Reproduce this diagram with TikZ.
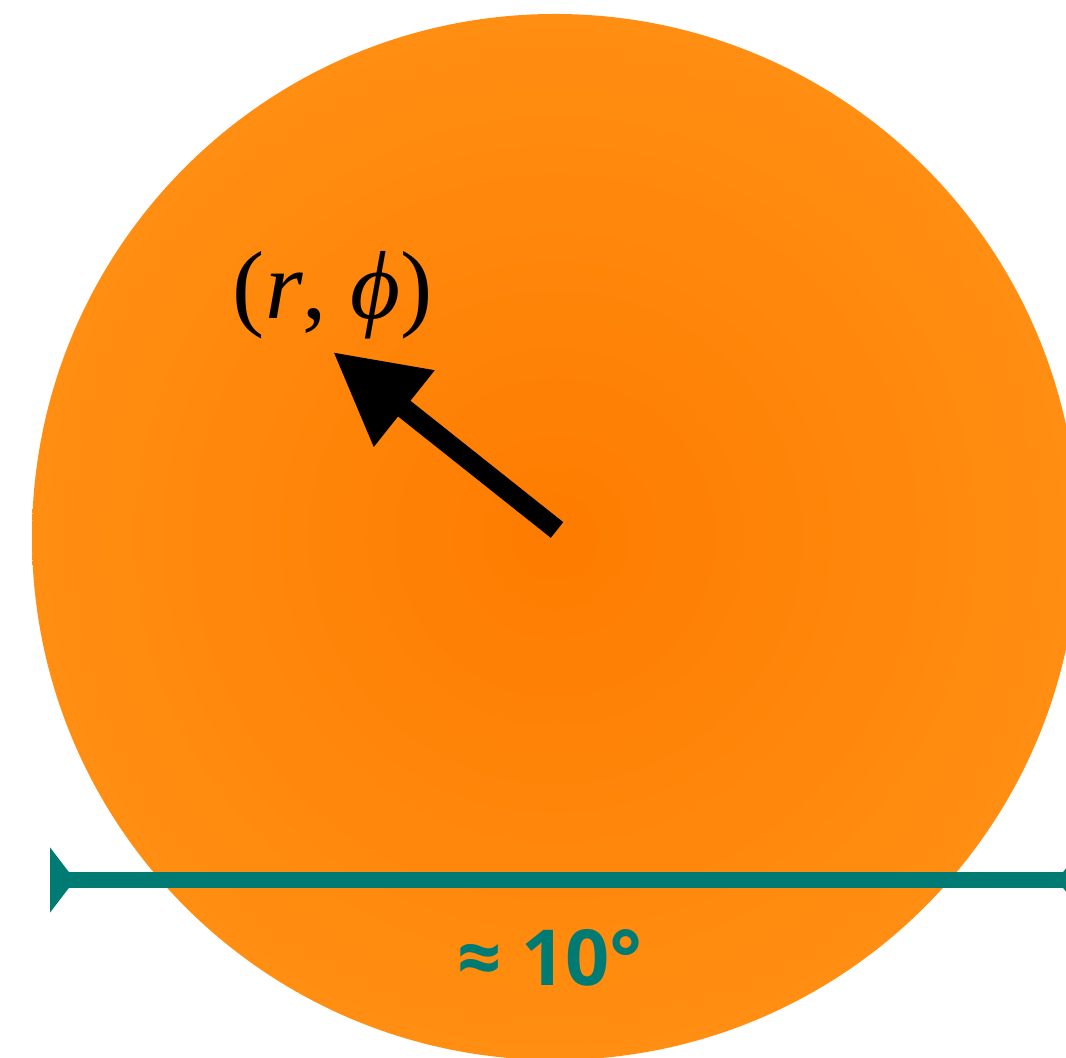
\documentclass[tikz,border=0pt]{standalone}
\usepackage{fontspec}
\setmainfont{Liberation Serif}
\newfontfamily\labelsans{Open Sans}
\usetikzlibrary{arrows.meta,positioning}
\definecolor{spotin}{RGB}{254,124,0}
\definecolor{spotout}{RGB}{255,142,18}
\definecolor{scaleteal}{RGB}{0,123,116}

\begin{document}
\begin{tikzpicture}
    \useasboundingbox (0,0) rectangle (10.66,10.57);
    \clip (0,0) rectangle (10.66,10.57);
    % source disc
    \shade[inner color=spotin, outer color=spotout] (5.55,5.20) circle (5.23);
    \coordinate (ctr) at (5.57,5.27);
    \coordinate (pos) at (3.33,7.05);
    \draw[line width=0.2cm, -{Triangle[length=9.1mm, width=9.2mm]}] (ctr) -- (pos);
    \node[font=\fontsize{27.5}{32}\selectfont] (coord) at (3.33,7.62) {(\textit{r}, \textit{ϕ})};
    % angular size
    \coordinate (dl) at (0.50,1.77);
    \coordinate (dr) at (10.82,1.77);
    \draw[scaleteal, line width=0.16cm,
          {Triangle[reversed, length=2.5mm, width=6.4mm]}-{Triangle[reversed, length=2.5mm, width=6.4mm]}] (dl) -- (dr);
    \node[font=\labelsans\bfseries\fontsize{22}{26}\selectfont, text=scaleteal] (size) at (5.50,0.99) {≈ 10°};
\end{tikzpicture}
\end{document}
